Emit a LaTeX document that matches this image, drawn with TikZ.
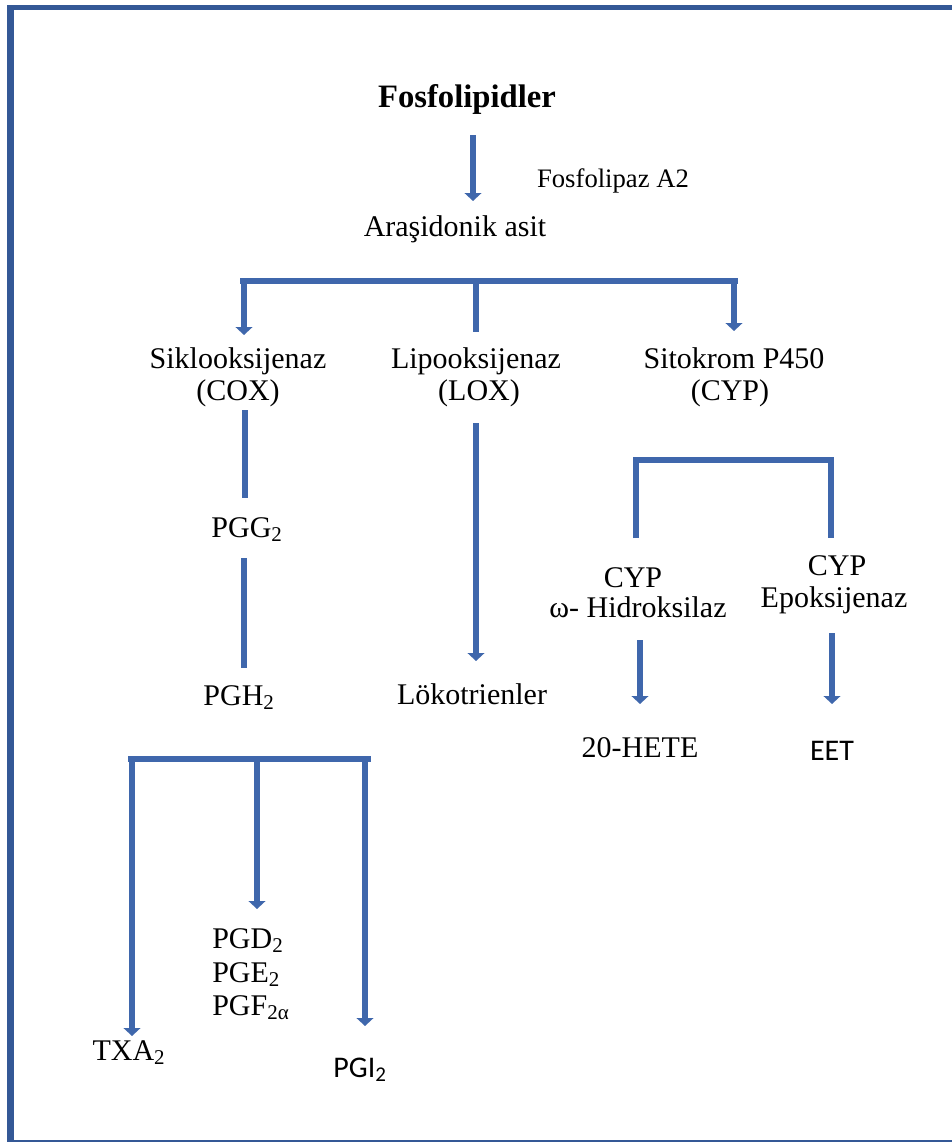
\documentclass[tikz,border=0pt]{standalone}
\usepackage{fontspec}
\setmainfont{Liberation Serif}
\newfontfamily\calfont{Carlito}
\usetikzlibrary{arrows.meta}
\definecolor{arrowblue}{RGB}{63,103,172}
\definecolor{frameblue}{RGB}{52,88,150}
\begin{document}
\begin{tikzpicture}[x=0.75pt,y=-0.75pt,
  txt/.style={anchor=base,inner sep=0pt,font=\fontsize{22.5}{23.5}\selectfont},
  conn/.style={draw=arrowblue,line width=5pt},
  arr/.style={conn,-{Triangle[width=12.5pt,length=6pt]}}]
\useasboundingbox (0,0) rectangle (952,1142);
\fill[white] (0,0) rectangle (952,1142);
% frame
\fill[frameblue] (7,5) rectangle (952,10);
\fill[frameblue] (7,5) rectangle (14,1142);
\fill[frameblue] (7,1139.5) rectangle (952,1142);

% nodes
\node[txt,font=\bfseries\fontsize{24.5}{26}\selectfont] (fos) at (467,107) {Fosfolipidler};
\node[txt,font=\fontsize{20}{22}\selectfont] (fla) at (613,187) {Fosfolipaz A2};
\node[txt] (ara) at (455,236) {Araşidonik asit};
\node[txt] (cox1) at (238,368) {Siklooksijenaz};
\node[txt] (cox2) at (238,400) {(COX)};
\node[txt] (lox1) at (476,368) {Lipooksijenaz};
\node[txt] (lox2) at (479,400) {(LOX)};
\node[txt] (cyp1) at (734,368) {Sitokrom P450};
\node[txt] (cyp2) at (730,400) {(CYP)};
\node[txt] (pgg) at (247,537) {PGG\textsubscript{2}};
\node[txt] (pgh) at (239,705) {PGH\textsubscript{2}};
\node[txt] (lt) at (472,704) {Lökotrienler};
\node[txt] (hyd1) at (633,587) {CYP};
\node[txt] (hyd2) at (638,617) {ω- Hidroksilaz};
\node[txt] (epo1) at (837,575) {CYP};
\node[txt] (epo2) at (834,607) {Epoksijenaz};
\node[txt] (hete) at (640,757) {20-HETE};
\node[txt,font=\calfont\fontsize{22.5}{23.5}\selectfont] (eet) at (832,760) {EET};
\node[txt,anchor=base west] (pgd) at (212,948) {PGD\textsubscript{2}};
\node[txt,anchor=base west] (pge) at (212,982) {PGE\textsubscript{2}};
\node[txt,anchor=base west] (pgf) at (212,1015) {PGF\textsubscript{2α}};
\node[txt] (txa) at (129,1060) {TXA\textsubscript{2}};
\node[txt,font=\calfont\fontsize{22.5}{23.5}\selectfont] (pgi) at (360,1077) {PGI\textsubscript{2}};

% connector end points
\coordinate (fosout) at (473,135);
\coordinate (arain) at (473,201);
\coordinate (barL) at (240,281);
\coordinate (barR) at (738,281);
\coordinate (dropL) at (244,279);
\coordinate (coxin) at (244,335);
\coordinate (dropM) at (476,279);
\coordinate (loxin) at (476,332);
\coordinate (dropR) at (734,279);
\coordinate (cypin) at (734,331);
\coordinate (coxout) at (245,410);
\coordinate (pggin) at (245,498);
\coordinate (pggout) at (244,558);
\coordinate (pghin) at (244,668);
\coordinate (loxout) at (476,423);
\coordinate (ltin) at (476,661);
\coordinate (cbL) at (636,538);
\coordinate (cbLt) at (636,460);
\coordinate (cbRt) at (831,460);
\coordinate (cbR) at (831,538);
\coordinate (hydout) at (640,640);
\coordinate (hetein) at (640,704);
\coordinate (epoout) at (832,633);
\coordinate (eetin) at (832,704);
\coordinate (pbL) at (128,759);
\coordinate (pbR) at (371,759);
\coordinate (pdL) at (132,757);
\coordinate (txain) at (132,1036);
\coordinate (pdM) at (257,757);
\coordinate (pgdin) at (257,909);
\coordinate (pdR) at (365,757);
\coordinate (pgiin) at (365,1026);

% connectors
\draw[arr,line width=4pt] (fosout) -- (arain);
\draw[conn] (barL) -- (barR);
\draw[arr] (dropL) -- (coxin);
\draw[conn] (dropM) -- (loxin);
\draw[arr] (dropR) -- (cypin);
\draw[conn] (coxout) -- (pggin);
\draw[conn] (pggout) -- (pghin);
\draw[arr] (loxout) -- (ltin);
\draw[conn] (cbL) -- (cbLt) -- (cbRt) -- (cbR);
\draw[arr] (hydout) -- (hetein);
\draw[arr] (epoout) -- (eetin);
\draw[conn] (pbL) -- (pbR);
\draw[arr] (pdL) -- (txain);
\draw[arr] (pdM) -- (pgdin);
\draw[arr] (pdR) -- (pgiin);
\end{tikzpicture}
\end{document}
